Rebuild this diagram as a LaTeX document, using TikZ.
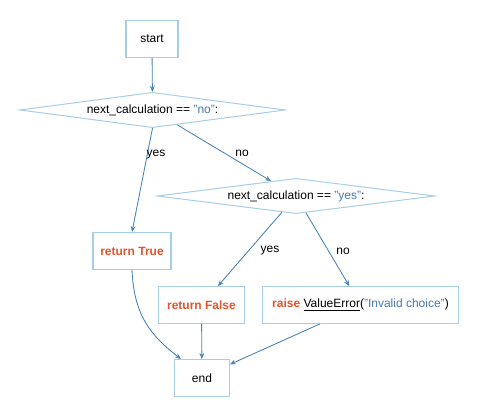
\documentclass[tikz,border=0pt]{standalone}
\usepackage{fontspec}
\setmainfont{Liberation Sans}
\usetikzlibrary{arrows.meta,shapes.geometric}
\definecolor{edgeblue}{RGB}{72,132,184}
\definecolor{frame}{RGB}{166,206,232}
\definecolor{kwred}{RGB}{228,84,44}
\definecolor{strblue}{RGB}{74,122,172}

\begin{document}
\begin{tikzpicture}[
      x=0.75pt,y=-0.75pt,
      font=\fontsize{9}{11}\selectfont,
      box/.style={draw=frame,line width=0.9pt,fill=white,
        minimum height=27.5pt,inner xsep=2pt},
      cond/.style={diamond,aspect=7.5,draw=frame,line width=0.75pt,
        fill=white,inner sep=0pt,minimum width=#1,minimum height=26.5pt},
      lbl/.style={inner sep=1pt},
      arr/.style={-{Stealth[length=4.5pt,width=3.6pt]},edgeblue,line width=0.65pt}
    ]
      \useasboundingbox (0,0) rectangle (478,416);

      \node[box,minimum width=39pt](start) at (152,39){start};
      \node[cond=199pt](isno) at (152.5,110){next\_calculation == \textcolor{strblue}{"no"}:};
      \node[cond=208pt](isyes) at (296,196){next\_calculation == \textcolor{strblue}{"yes"}:};
      \node[box,minimum width=58.5pt](rtrue) at (132,251){\textcolor{kwred}{\bfseries return True}};
      \node[box,minimum width=64pt](rfalse) at (201.5,305){\textcolor{kwred}{\bfseries return False}};
      \node[box,minimum width=147.5pt](raise) at (360.5,305){%
        \textcolor{kwred}{\bfseries raise} \underline{ValueError}(\textcolor{strblue}{"Invalid choice"})};
      \node[box,minimum width=41pt](end) at (202,378){end};

      \draw[arr](start)--(isno);
      \draw[arr](isno.south)--(rtrue.north);
      \draw[arr](isno)--(isyes);
      \draw[arr](isyes)--(rfalse);
      \draw[arr](isyes)--(raise);
      \draw[arr](rtrue.south) .. controls (134,315) and (150,335) .. (end.138);
      \draw[arr](rfalse)--(end);
      \draw[arr](raise.205)--(end.26);

      \node[lbl] at (156,155){yes};
      \node[lbl] at (242,153){no};
      \node[lbl] at (270,251){yes};
      \node[lbl] at (343,251){no};
    \end{tikzpicture}
\end{document}
